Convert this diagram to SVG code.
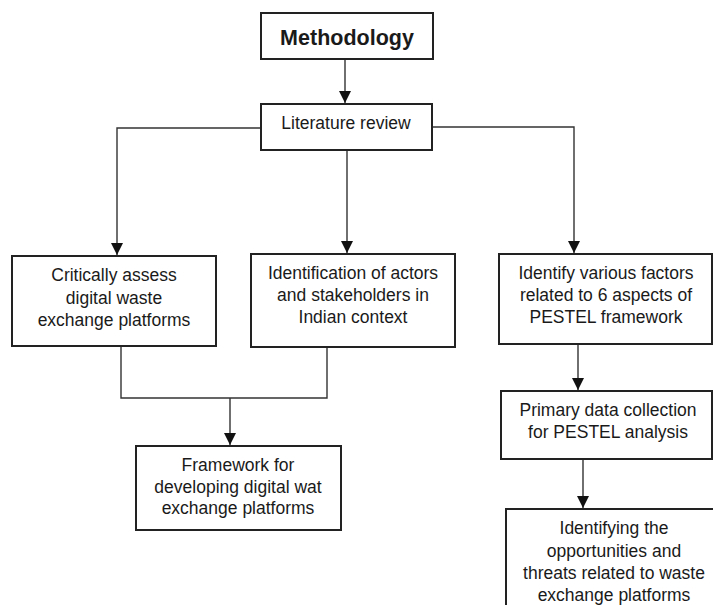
<svg xmlns="http://www.w3.org/2000/svg" width="713" height="605" viewBox="0 0 713 605">
<style>
.box{fill:#fff;stroke:#222;stroke-width:2}
.t{font-family:"Liberation Sans",Arial,sans-serif;font-size:17.5px;fill:#1a1a1a;text-anchor:middle}
.b{font-weight:bold;font-size:21.5px}
.c{fill:none;stroke:#333;stroke-width:1.4}
</style>
<defs>
<marker id="ah" markerWidth="12" markerHeight="12" refX="10" refY="5" orient="auto" markerUnits="userSpaceOnUse" viewBox="0 0 10 10">
<path d="M0,0 L10,5 L0,10 Z" fill="#111"/>
</marker>
</defs>
<rect width="713" height="605" fill="#fff"/>
<g id="connectors">
<path class="c" d="M345,59 V103" marker-end="url(#ah)"/>
<path class="c" d="M261,128 H117 V255" marker-end="url(#ah)"/>
<path class="c" d="M347,150 V253" marker-end="url(#ah)"/>
<path class="c" d="M432,127 H574 V253" marker-end="url(#ah)"/>
<path class="c" d="M121,346 V398 H327 V347"/>
<path class="c" d="M230,398 V445" marker-end="url(#ah)"/>
<path class="c" d="M578,344 V390" marker-end="url(#ah)"/>
<path class="c" d="M583,459 V508" marker-end="url(#ah)"/>
</g>
<g id="methodology">
<rect class="box" x="261" y="13" width="172" height="46"/>
<text class="t b" x="347" y="45">Methodology</text>
</g>
<g id="literature">
<rect class="box" x="261" y="104" width="171" height="46"/>
<text class="t" x="346" y="129">Literature review</text>
</g>
<g id="critically">
<rect class="box" x="12" y="256" width="204" height="90"/>
<text class="t" x="114" y="281">Critically assess</text>
<text class="t" x="114" y="304">digital waste</text>
<text class="t" x="114" y="326">exchange platforms</text>
</g>
<g id="identification">
<rect class="box" x="251" y="254" width="204" height="93"/>
<text class="t" x="353" y="279">Identification of actors</text>
<text class="t" x="353" y="301">and stakeholders in</text>
<text class="t" x="353" y="323">Indian context</text>
</g>
<g id="framework">
<rect class="box" x="136" y="446" width="205" height="84"/>
<text class="t" x="238" y="471">Framework for</text>
<text class="t" x="238" y="493">developing digital wat</text>
<text class="t" x="238" y="514">exchange platforms</text>
</g>
<g id="pestel">
<rect class="box" x="499" y="254" width="213" height="90"/>
<text class="t" x="606" y="279">Identify various factors</text>
<text class="t" x="606" y="301">related to 6 aspects of</text>
<text class="t" x="606" y="323">PESTEL framework</text>
</g>
<g id="primary">
<rect class="box" x="501" y="391" width="211" height="68"/>
<text class="t" x="608" y="416">Primary data collection</text>
<text class="t" x="608" y="438">for PESTEL analysis</text>
</g>
<g id="opportunities">
<rect class="box" x="506" y="509" width="216" height="110"/>
<text class="t" x="614" y="534">Identifying the</text>
<text class="t" x="614" y="557">opportunities and</text>
<text class="t" x="614" y="579">threats related to waste</text>
<text class="t" x="614" y="601">exchange platforms</text>
</g>
</svg>
